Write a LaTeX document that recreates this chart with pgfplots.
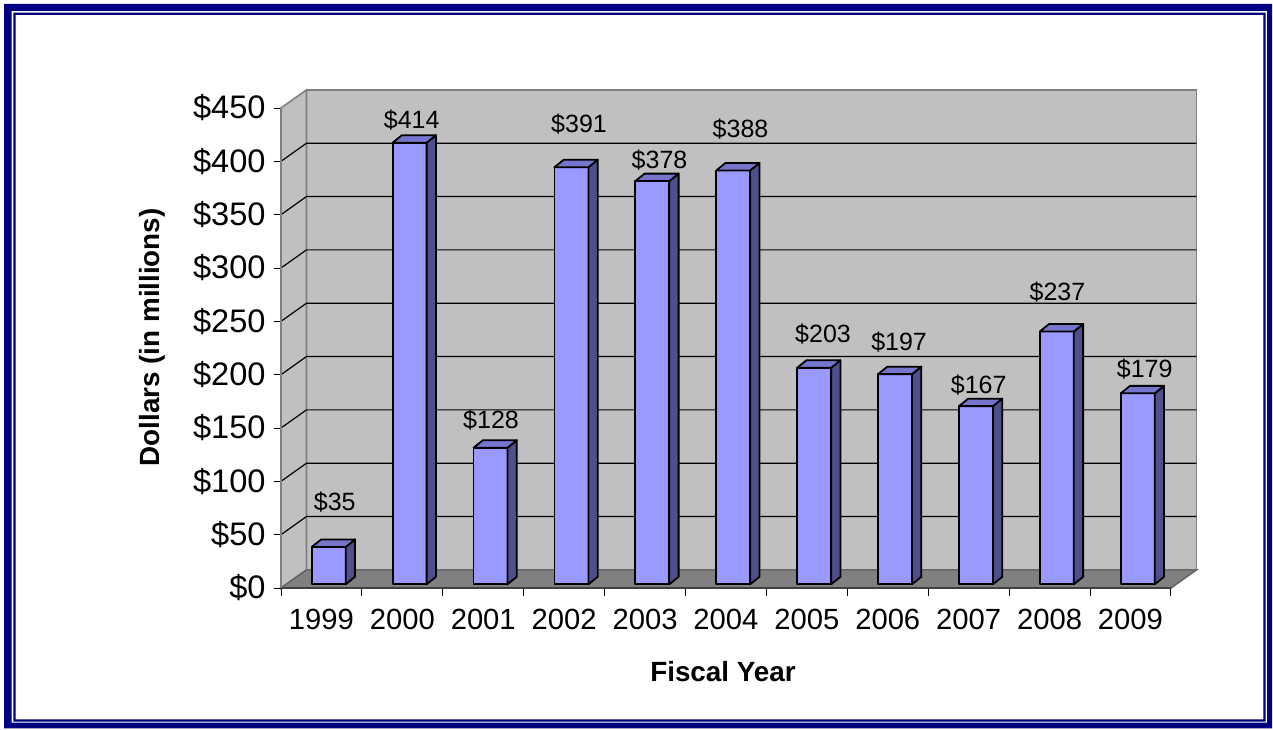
\documentclass[border=0pt]{standalone}
\usepackage{pgfplots}
\pgfplotsset{compat=1.18}
\usepackage{pgfplotstable}
\usepackage{fontspec}
\setmainfont{Liberation Sans}
\definecolor{navy}{HTML}{000080}
\definecolor{wall}{HTML}{C0C0C0}
\definecolor{floorc}{HTML}{808080}
\definecolor{barfront}{HTML}{9999FF}
\definecolor{bartop}{HTML}{7575CC}
\definecolor{barside}{HTML}{4F4F8C}

\pgfplotstableread{
x val lx ly
0 35 0.164 73.1
1 414 1.116 431.2
2 128 2.096 150.0
3 391 3.184 426.6
4 378 4.179 393.7
5 388 5.180 421.9
6 203 6.200 229.7
7 197 7.140 223.1
8 167 8.124 182.8
9 237 9.098 270.0
10 179 10.176 196.9
}\datatable

\begin{document}
\begin{tikzpicture}
\useasboundingbox (0,0) rectangle (636.5pt,364.5pt);
\fill[white] (0,0) rectangle (636.5pt,364.5pt);
\fill[navy, even odd rule] (2pt,0.35pt) rectangle (636pt,362.5pt) (5.85pt,3.15pt) rectangle (633.5pt,359pt);
\fill[navy, even odd rule] (6.65pt,3.65pt) rectangle (632.85pt,358.15pt) (7.85pt,4.85pt) rectangle (631.65pt,357pt);
\begin{axis}[
  at={(140.5pt,70.5pt)}, anchor=south west,
  x=40.45pt, y=0.53333pt,
  xmin=-0.5, xmax=10.5, ymin=0, ymax=450,
  clip=false,
  axis on top,
  axis x line*=bottom, axis y line*=left,
  x axis line style={-, draw=black!75, line width=0.8pt},
  y axis line style={-, draw=gray, line width=0.8pt},
  tick align=outside,
  major tick length=3.75pt,
  tick style={black, line width=0.5pt},
  ytick={0,50,...,450},
  yticklabels={\$0,\$50,\$100,\$150,\$200,\$250,\$300,\$350,\$400,\$450},
  yticklabel style={font=\fontsize{16.3}{19}\selectfont, anchor=east, inner sep=0pt, xshift=-3.75pt},
  xtick={-0.5,0.5,1.5,2.5,3.5,4.5,5.5,6.5,7.5,8.5,9.5,10.5},
  xticklabels={},
  extra x ticks={0,1,2,3,4,5,6,7,8,9,10},
  extra x tick labels={1999,2000,2001,2002,2003,2004,2005,2006,2007,2008,2009},
  extra x tick style={major tick length=0pt},
  xticklabel style={font=\fontsize{14.6}{17}\selectfont, anchor=base, inner sep=0pt, yshift=-20.5pt},
  every axis x label/.style={at={(axis description cs:0.4966,-0.1958)}, anchor=base, font=\bfseries\fontsize{13.9}{16}\selectfont},
  every axis y label/.style={at={(axis description cs:-0.136,0.5223)}, anchor=base, rotate=90, font=\bfseries\fontsize{13.9}{16}\selectfont},
  xlabel={Fiscal Year},
  ylabel={Dollars (in millions)},
]
% walls and floor
\fill[wall, draw=gray, line width=0.8pt] (axis cs:-0.185,17) rectangle (axis cs:10.815,467);
\fill[wall, draw=gray, line width=0.8pt] (axis cs:-0.5,0) -- (axis cs:-0.185,17) -- (axis cs:-0.185,467) -- (axis cs:-0.5,450) -- cycle;
\fill[floorc, draw=gray!80!black, line width=0.8pt] (axis cs:-0.5,0) -- (axis cs:10.5,0) -- (axis cs:10.815,17) -- (axis cs:-0.185,17) -- cycle;
\foreach \g/\gb in {50/67,100/117,150/167,200/217,250/267,300/317,350/367,400/417}{
  \edef\temp{\noexpand\draw[black, line width=0.6pt] (axis cs:-0.5,\g) -- (axis cs:-0.185,\gb) -- (axis cs:10.815,\gb);}\temp
}
% bars
\pgfplotsinvokeforeach{0,...,10}{
  \pgfplotstablegetelem{#1}{val}\of\datatable
  \let\h\pgfplotsretval
  \pgfmathsetmacro\xa{#1-0.12}
  \pgfmathsetmacro\xb{#1+0.30}
  \pgfmathsetmacro\xc{#1+0.415}
  \pgfmathsetmacro\xd{#1-0.005}
  \pgfmathsetmacro\ya{\h+3.5}
  \pgfmathsetmacro\yb{\h+10.5}
  \edef\temp{
    \noexpand\addplot[fill=barfront, draw=black, line width=0.9pt, line join=round] coordinates {(\xa,3.5) (\xb,3.5) (\xb,\ya) (\xa,\ya)} -- cycle;
    \noexpand\addplot[fill=barside, draw=black, line width=0.9pt, line join=round] coordinates {(\xb,3.5) (\xc,10.5) (\xc,\yb) (\xb,\ya)} -- cycle;
    \noexpand\addplot[fill=bartop, draw=black, line width=0.9pt, line join=round] coordinates {(\xa,\ya) (\xb,\ya) (\xc,\yb) (\xd,\yb)} -- cycle;
  }\temp
}
% value labels
\addplot[draw=none, mark=none, nodes near coords={\$\pgfplotspointmeta}, point meta=explicit symbolic,
  every node near coord/.style={anchor=base, inner sep=0pt, font=\fontsize{12.5}{15}\selectfont, text=black}]
  table[x=lx, y=ly, meta=val]{\datatable};
\end{axis}
\end{tikzpicture}
\end{document}
